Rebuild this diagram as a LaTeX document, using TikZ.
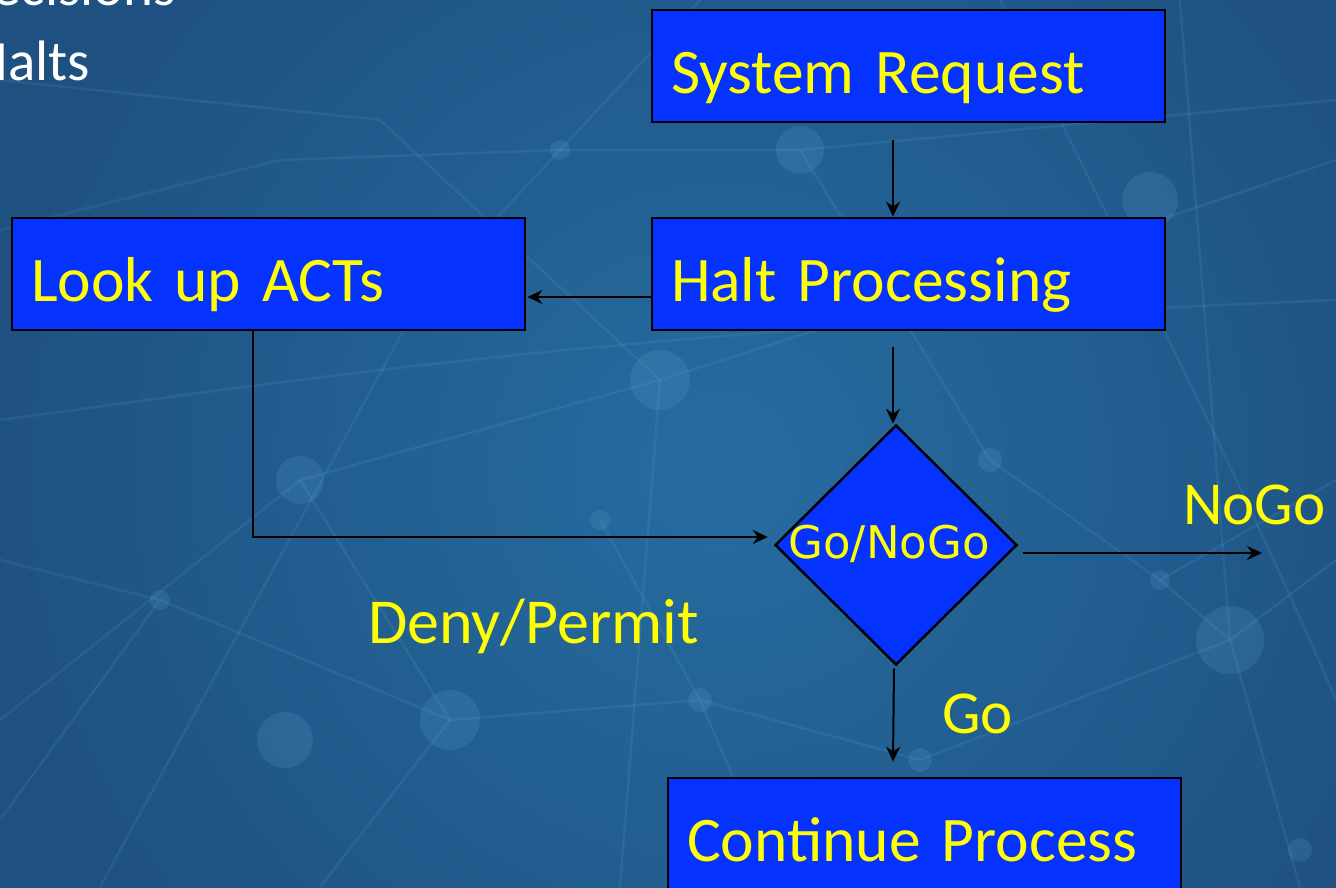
\documentclass[tikz,border=0pt]{standalone}
\usepackage{fontspec}
\setmainfont{Carlito}
\newfontfamily\dvsans{DejaVu Sans}
\usetikzlibrary{shapes.geometric,arrows.meta,calc}
\definecolor{bgdark}{RGB}{30,80,128}
\definecolor{bglight}{RGB}{38,108,160}
\definecolor{boxblue}{RGB}{5,50,255}
\definecolor{txtyellow}{RGB}{255,255,0}
\definecolor{netline}{RGB}{110,185,230}
\tikzset{
  x=1pt, y=-1pt,
  flowbox/.style={draw=black, line width=2.8pt, fill=boxblue, minimum width=513pt, minimum height=112pt,
    text width=475pt, align=left, inner xsep=19pt, inner ysep=0pt, text height=54pt, text depth=0pt,
    text=txtyellow, font=\fontsize{63.5}{70}\selectfont},
  decision/.style={draw=black, line width=2.5pt, fill=boxblue, diamond, minimum width=242pt, minimum height=240pt, inner sep=0pt},
  dtext/.style={text=txtyellow, font=\dvsans\fontsize{45}{50}\selectfont, inner sep=0pt},
  lbl/.style={text=txtyellow, font=\fontsize{61}{66}\selectfont, inner sep=0pt, anchor=base west},
  slidetxt/.style={text=white, font=\fontsize{57}{62}\selectfont, inner sep=0pt, anchor=base east},
  arr/.style={draw=black, line width=2pt, -{Stealth[length=15pt, width=14pt, inset=5pt]}},
  net/.style={draw=netline, line width=2.5pt, opacity=0.12},
  glow/.style={fill=netline, opacity=0.15}
}
\begin{document}
\begin{tikzpicture}
\useasboundingbox (0,0) rectangle (1336,887);
\fill[bgdark] (-10,-10) rectangle (1346,897);
\begin{scope}
\clip (-10,-10) rectangle (1346,897);
\shade[inner color=bglight, outer color=bgdark] (720,470) circle (760);
\end{scope}
% faint network
\draw[net] (0,420) .. controls (300,380) and (600,330) .. (1336,300);
\draw[net] (100,887) -- (420,300) -- (700,0);
\draw[net] (380,120) -- (660,380) -- (1100,240) -- (1336,160);
\draw[net] (0,720) -- (300,480) -- (660,380) -- (620,887);
\draw[net] (300,480) -- (450,720) -- (700,700) -- (920,760) -- (1230,640) -- (1336,560);
\draw[net] (1180,0) -- (1230,640) -- (1300,887);
\draw[net] (800,150) -- (990,460) -- (1160,580) -- (1336,480);
\draw[net] (450,720) -- (320,887);
\draw[net] (700,700) -- (780,887);
\draw[net] (160,600) -- (450,720);
\draw[net] (1000,0) .. controls (1150,300) and (1250,500) .. (1336,700);
\draw[net] (0,230) -- (280,160) -- (560,150) -- (800,150) -- (1336,100);
\draw[net] (0,560) -- (160,600) -- (0,820);
\draw[net] (1160,580) -- (1230,640);
\draw[net] (600,520) -- (700,700);
\draw[net] (0,80) -- (380,120);
\fill[glow] (660,380) circle (30);
\fill[glow] (300,480) circle (24);
\fill[glow] (450,720) circle (30);
\fill[glow] (1230,640) circle (34);
\fill[glow] (1160,580) circle (10);
\fill[glow] (990,460) circle (12);
\fill[glow] (700,700) circle (12);
\fill[glow] (920,760) circle (12);
\fill[glow] (800,150) circle (24);
\fill[glow] (1150,200) circle (28);
\fill[glow] (285,740) circle (28);
\fill[glow] (560,150) circle (10);
\fill[glow] (420,300) circle (12);
\fill[glow] (160,600) circle (10);
\fill[glow] (1300,850) circle (12);
\fill[glow] (600,520) circle (10);
% slide text (cropped at the edge, as in the slide)
\node[slidetxt] (t1) at (176,5) {Decisions};
\node[slidetxt] (t2) at (90,80) {Halts};
% flow chart
\node[flowbox] (sr) at (908.5,66) {System Request};
\node[flowbox] (halt) at (908.5,274) {Halt Processing};
\node[flowbox] (look) at (268.5,274) {Look up ACTs};
\node[flowbox] (cont) at (924.5,834) {Continue Process};
\node[decision] (d) at (896,545) {};
\node[dtext, anchor=base] (dt) at (889,558) {Go/NoGo};
\coordinate (nogoend) at (1262,553);
\draw[arr] ([xshift=-15.5pt,yshift=-17pt]sr.south) -- ([xshift=-15.5pt]halt.north);
\draw[arr] ([yshift=-23pt]halt.west) -- ([xshift=1pt,yshift=-23pt]look.east);
\draw[arr] ([xshift=-15.5pt,yshift=-16pt]halt.south) -- ([xshift=-3pt]d.north);
\draw[arr] ([xshift=-15.5pt]look.south) |- ([xshift=-6pt,yshift=8pt]d.west);
\draw[arr] ([xshift=5pt,yshift=-8pt]d.east) -- (nogoend);
\draw[arr] ([xshift=-2pt,yshift=-2pt]d.south) -- ([xshift=-31.5pt,yshift=15pt]cont.north);
\node[lbl] (nogo) at (1183,524) {NoGo};
\node[lbl, font=\fontsize{64}{70}\selectfont] (deny) at (368,643) {Deny/Permit};
\node[lbl] (go) at (942,733) {Go};
\end{tikzpicture}
\end{document}
